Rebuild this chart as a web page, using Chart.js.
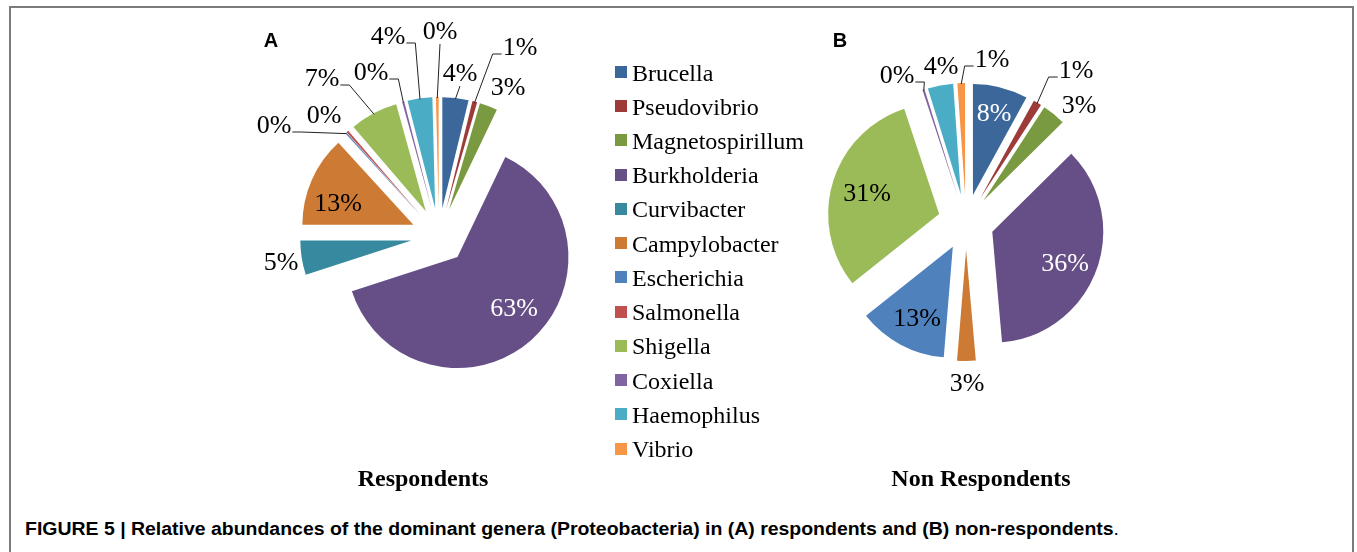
<!DOCTYPE html>
<html>
<head>
<meta charset="utf-8">
<script src="https://cdn.jsdelivr.net/npm/chart.js@4.4.0/dist/chart.umd.min.js"></script>
<style>
    body { margin: 0; width: 1357px; height: 552px; background: #fff; position: relative; overflow: hidden; font-family: 'Liberation Serif', 'Times New Roman', serif; }
    #moldura { position: absolute; left: 9px; top: 6px; width: 1341px; height: 600px; border: 2px solid #7b7b7b; border-bottom: none; }
    canvas { position: absolute; }
    .painel { position: absolute; font: bold 20px 'Liberation Sans', Arial, sans-serif; transform: translate(-50%, -50%); }
    .titulo { position: absolute; font-weight: bold; font-size: 24px; transform: translate(-50%, -50%); white-space: nowrap; }
    #legenda .item { position: absolute; left: 615px; height: 30px; display: flex; align-items: center; font-size: 24px; transform: translateY(-50%); white-space: nowrap; }
    #legenda .cor { width: 12px; height: 12px; margin-right: 5px; }
    #legenda span { position: relative; top: 1px; }
    #legenda-texto { position: absolute; }
    #figura { position: absolute; left: 25px; top: 519px; font: bold 18px 'Liberation Sans', Arial, sans-serif; white-space: nowrap; transform-origin: left top; }
    #figura .ponto { font-weight: normal; }
</style>
</head>
<body>
<div id="moldura"></div>

<canvas id="pie-respondentes" width="500" height="500" style="left:189px; top:-14px;"></canvas>
<canvas id="pie-nao-respondentes" width="500" height="500" style="left:716px; top:-28px;"></canvas>

<div class="painel" style="left:271px; top:40px;">A</div>
<div class="painel" style="left:840px; top:40px;">B</div>
<div class="titulo" style="left:423px; top:478px;">Respondents</div>
<div class="titulo" style="left:981px; top:478px;">Non Respondents</div>

<div id="legenda"></div>

<div id="figura">FIGURE 5 | Relative abundances of the dominant genera (Proteobacteria) in (A) respondents and (B) non-respondents<span class="ponto">.</span></div>

<script>
/* ===== DADOS ===== */

const genera = ['Brucella', 'Pseudovibrio', 'Magnetospirillum', 'Burkholderia', 'Curvibacter',
    'Campylobacter', 'Escherichia', 'Salmonella', 'Shigella', 'Coxiella', 'Haemophilus', 'Vibrio'];

// relative abundance (%)
const respondents = [3.8, 0.7, 2.6, 62.9, 5.0, 13.2, 0.2, 0.3, 7.0, 0.3, 3.6, 0.4];
const nonRespondents = [8.0, 1.2, 3.4, 36.0, 0, 2.7, 13.0, 0, 30.6, 0.3, 3.7, 1.1];

const cores = ['#3c679a', '#9d3b38', '#7a9a41', '#664e86', '#37899f', '#cd7a35',
    '#4f81bd', '#c0504d', '#9bbb59', '#8064a2', '#4bacc6', '#f79646'];

/* ===== POSICAO DOS ROTULOS (relativa ao centro da pizza) ===== */

// leader: 'v' = tick below the text, 'r' / 'l' = elbow from right / left side
const rotulosA = [
    { dx: 21, dy: -162, leader: 'v' },
    { dx: 81, dy: -188, leader: 'l' },
    { dx: 69, dy: -148 },
    { dx: 75, dy: 73, white: true },
    { dx: -158, dy: 27 },
    { dx: -101, dy: -32 },
    { dx: -165, dy: -110, leader: 'r' },
    { dx: -115, dy: -120 },
    { dx: -117, dy: -157, leader: 'r' },
    { dx: -68, dy: -163, leader: 'r' },
    { dx: -51, dy: -199, leader: 'r' },
    { dx: 1, dy: -204, leader: 'v' }
];

const rotulosB = [
    { dx: 28, dy: -108, white: true },
    { dx: 110, dy: -151, leader: 'l' },
    { dx: 113, dy: -116 },
    { dx: 99, dy: 42, white: true },
    null,
    { dx: 1, dy: 162 },
    { dx: -49, dy: 97 },
    null,
    { dx: -99, dy: -28 },
    { dx: -69, dy: -146, leader: 'r' },
    { dx: -25, dy: -155 },
    { dx: 26, dy: -162, leader: 'l' }
];

/* ===== FATIA EXPLODIDA ===== */

// Arc that is shifted outward by `offset` without growing its radius
class ExplodedArc extends Chart.ArcElement {
    static id = 'explodedArc';

    draw(ctx) {
        const { x, y, startAngle, endAngle, outerRadius, options } = this;
        if (endAngle <= startAngle) return;
        const meio = (startAngle + endAngle) / 2;
        const off = options.offset || 0;
        const cx = x + Math.cos(meio) * off;
        const cy = y + Math.sin(meio) * off;
        ctx.save();
        ctx.beginPath();
        ctx.moveTo(cx, cy);
        ctx.arc(cx, cy, outerRadius, startAngle, endAngle);
        ctx.closePath();
        ctx.fillStyle = options.backgroundColor;
        ctx.fill();
        ctx.restore();
    }
}

class ExplodedPie extends Chart.PieController {
    static id = 'explodedPie';
    static defaults = { dataElementType: 'explodedArc' };
}

Chart.register(ExplodedArc, ExplodedPie);

function pluginRotulos(layout) {
    return {
        id: 'rotulos',
        afterDatasetsDraw(chart) {
            const meta = chart.getDatasetMeta(0);
            const dados = chart.data.datasets[0].data;
            const total = dados.reduce((a, b) => a + b, 0);
            const ctx = chart.ctx;

            ctx.save();
            ctx.font = '26px "Liberation Serif", "Times New Roman", serif';
            ctx.textAlign = 'center';
            ctx.textBaseline = 'middle';

            meta.data.forEach((arc, i) => {
                const p = layout[i];
                if (!p || dados[i] === 0) return;
                const txt = Math.round(dados[i] / total * 100) + '%';
                const lx = arc.x + p.dx;
                const ly = arc.y + p.dy;

                if (p.leader) {
                    const meio = (arc.startAngle + arc.endAngle) / 2;
                    const dist = (arc.options.offset || 0) + arc.outerRadius - 1;
                    const ex = arc.x + Math.cos(meio) * dist;
                    const ey = arc.y + Math.sin(meio) * dist;
                    const w = ctx.measureText(txt).width;

                    ctx.beginPath();
                    if (p.leader === 'v') {
                        ctx.moveTo(lx, ly + 12);
                        ctx.lineTo(ex, ey);
                    } else {
                        const lado = p.leader === 'r' ? 1 : -1;
                        const sx = lx + lado * (w / 2 + 1);
                        const sy = ly + 6;
                        ctx.moveTo(sx, sy);
                        ctx.lineTo(sx + lado * 9, sy);
                        ctx.lineTo(ex, ey);
                    }
                    ctx.strokeStyle = '#222';
                    ctx.lineWidth = 1;
                    ctx.stroke();
                }

                ctx.fillStyle = p.white ? '#fff' : '#000';
                ctx.fillText(txt, lx, ly);
            });
            ctx.restore();
        }
    };
}

/* ===== GRAFICOS ===== */

function renderizarPizza(id, valores, layout) {
    const ctx = document.getElementById(id);

    new Chart(ctx, {
        type: 'explodedPie',
        data: {
            labels: genera,
            datasets: [{
                data: valores,
                backgroundColor: cores,
                borderWidth: 0,
                offset: 28,
                radius: 111
            }]
        },
        options: {
            responsive: false,
            animation: false,
            events: [],
            layout: { padding: 0 },
            plugins: {
                legend: { display: false },
                tooltip: { enabled: false }
            }
        },
        plugins: [pluginRotulos(layout)]
    });
}

function montarLegenda() {
    const box = document.getElementById('legenda');
    genera.forEach((nome, i) => {
        const item = document.createElement('div');
        item.className = 'item';
        item.style.top = (72 + i * 34.24) + 'px';
        item.innerHTML = `<div class="cor" style="background:${cores[i]}"></div><span>${nome}</span>`;
        box.appendChild(item);
    });
}

function ajustarLegendaFigura() {
    const el = document.getElementById('figura');
    const largura = el.getBoundingClientRect().width;
    el.style.transform = `scaleX(${1094 / largura})`;
}

renderizarPizza('pie-respondentes', respondents, rotulosA);
renderizarPizza('pie-nao-respondentes', nonRespondents, rotulosB);
montarLegenda();
ajustarLegendaFigura();
</script>
</body>
</html>
